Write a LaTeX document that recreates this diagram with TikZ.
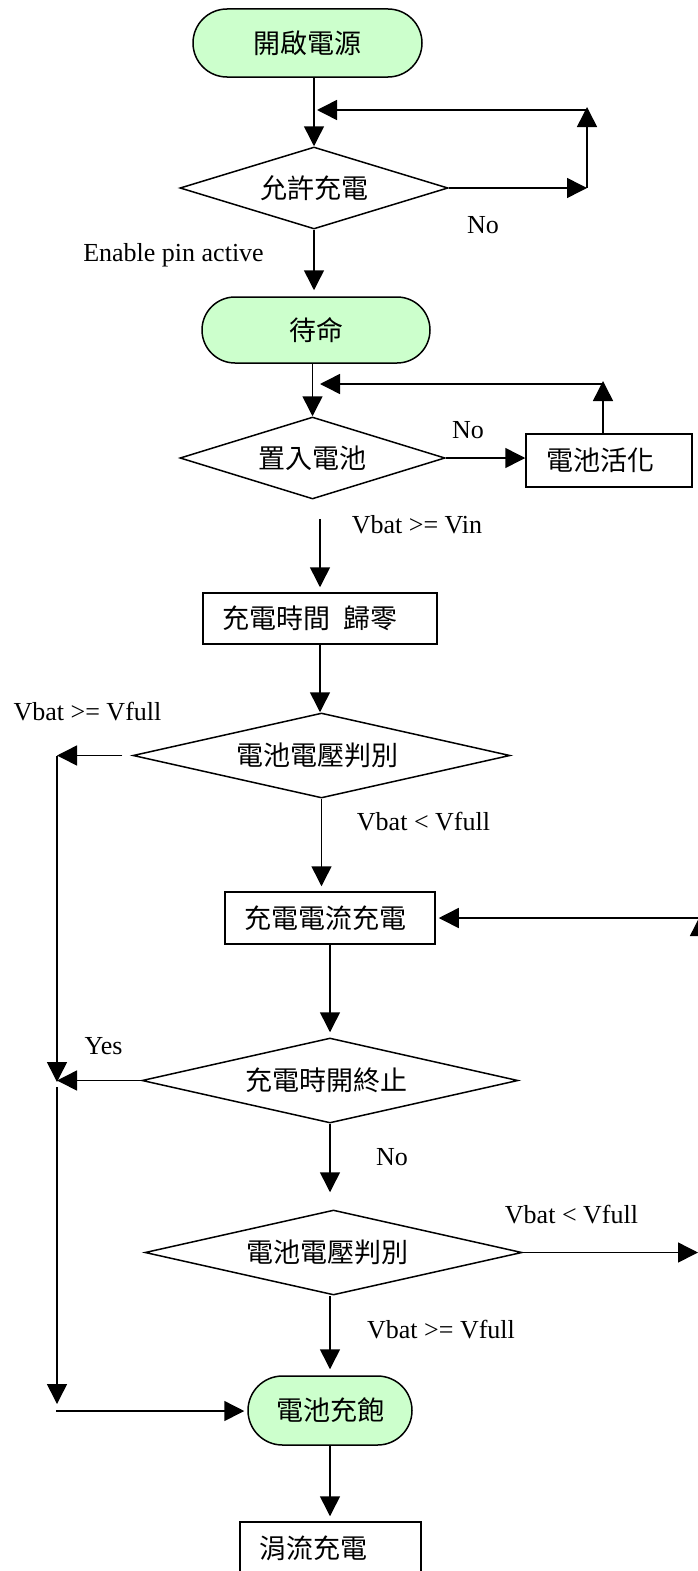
\documentclass[tikz,border=0pt]{standalone}
\usepackage{fontspec}
\setmainfont{Liberation Serif}
\newfontfamily\cjk{Noto Sans CJK TC}
\usetikzlibrary{shapes.geometric,shapes.misc,arrows.meta}
\definecolor{termgreen}{HTML}{CCFFCC}
\begin{document}
\begin{tikzpicture}[x=1pt,y=-1pt,
  line width=1.5pt,
  base/.style={draw, line width=1.5pt, font=\cjk\fontsize{27}{30}\selectfont, inner sep=0pt},
  term/.style={base, rounded rectangle, fill=termgreen},
  proc/.style={base, rectangle},
  dec/.style={base, diamond, aspect=4},
  arr/.style={-{Triangle[length=20pt,width=20pt]}},
  lbl/.style={font=\fontsize{26}{30}\selectfont, inner sep=0pt}
]
\useasboundingbox (0,0) rectangle (698,1571);
\clip (0,0) rectangle (698,1571);

% nodes
\node[term, minimum width=229pt, minimum height=68pt] (start) at (307.5,43) {開啟電源};
\node[dec, minimum width=268pt, minimum height=82pt] (d1) at (314,188) {允許充電};
\node[term, minimum width=228pt, minimum height=66pt] (standby) at (316,330) {待命};
\node[dec, minimum width=265pt, minimum height=82pt] (d2) at (312.5,458) {置入電池};
\node[proc, minimum width=166pt, minimum height=53pt] (act) at (609,460.5) {電池活化\kern18pt};
\node[proc, minimum width=234pt, minimum height=51pt] (reset) at (320,618.5) {充電時間\kern13pt歸零\kern20pt};
\node[dec, minimum width=377pt, minimum height=85pt] (d3) at (321.5,755.5) {電池電壓判別\kern8pt};
\node[proc, minimum width=210pt, minimum height=52pt] (cc) at (330,918) {充電電流充電\kern10pt};
\node[dec, minimum width=376pt, minimum height=85pt] (d4) at (330,1080.5) {充電時開終止\kern8pt};
\node[dec, minimum width=377pt, minimum height=85pt] (d5) at (333.5,1252.5) {電池電壓判別\kern12pt};
\node[term, minimum width=164pt, minimum height=69pt] (full) at (330,1410.5) {電池充飽};
\node[proc, minimum width=181pt, minimum height=52pt] (trickle) at (330.5,1548) {涓流充電\kern34pt};

% labels
\node[lbl] (tNo1) at (483,225) {No};
\node[lbl] (tEn) at (173.5,255) {Enable pin active};
\node[lbl] (tNo2) at (468,430) {No};
\node[lbl] (tVin) at (417,525) {Vbat >= Vin};
\node[lbl] (tVf1) at (87.5,712) {Vbat >= Vfull};
\node[lbl] (tVl1) at (423.5,822) {Vbat < Vfull};
\node[lbl] (tYes) at (103.5,1046) {Yes};
\node[lbl] (tNo3) at (392,1157) {No};
\node[lbl] (tVl2) at (571.5,1215) {Vbat < Vfull};
\node[lbl] (tVf2) at (441,1330) {Vbat >= Vfull};

% coordinates for free ends
\coordinate (n1) at (587,188);
\coordinate (n2) at (587,107);
\coordinate (n3) at (587,110);
\coordinate (n4) at (317,110);
\coordinate (m1) at (603,434);
\coordinate (m2) at (603,381);
\coordinate (m3) at (603,384);
\coordinate (m4) at (320,384);
\coordinate (L1) at (57,755.5);
\coordinate (L2) at (57,1082);
\coordinate (L3) at (57,1087);
\coordinate (L4) at (57,1404);
\coordinate (L5) at (56,1411);
\coordinate (R1) at (698,1252.5);
\coordinate (R2) at (700,1252.5);
\coordinate (R3) at (700,916);

% connectors
\draw[arr] (start.south -| d1.north) -- (d1.north);
\draw[arr] (d1.east) -- (n1);
\draw[arr] (n1) -- (n2);
\draw[arr] (n3) -- (n4);
\draw[arr, shorten >=6pt] (d1.south) -- (d1.south |- standby.north);
\draw[arr] (standby.south -| d2.north) -- (d2.north);
\draw[arr] (d2.east) -- (d2.east -| act.west);
\draw[arr] (act.north -| m1) -- (m2);
\draw[arr] (m3) -- (m4);
\draw[arr, shorten <=19pt, shorten >=5pt] (d2.south -| reset.north) -- (reset.north);
\draw[arr] (reset.south) -- (reset.south |- d3.north);
\draw[arr, shorten <=10pt] (d3.west) -- (L1);
\draw[arr] (L1) -- (L2);
\draw[arr] (d4.west) -- (d4.west -| L2);
\draw[arr] (L3) -- (L4);
\draw[arr, shorten >=3pt] (L5) -- (L5 -| full.west);
\draw[arr, shorten >=5pt] (d3.south) -- (d3.south |- cc.north);
\draw[arr, shorten >=5pt] (cc.south) -- (cc.south |- d4.north);
\draw[arr, shorten >=17pt] (d4.south) -- (d4.south |- d5.north);
\draw[arr] (d5.east) -- (R1);
\draw[arr] (R2) -- (R3);
\draw[arr, shorten >=3pt] (cc.east -| R2) -- (cc.east);
\draw[arr, shorten >=6pt] (d5.south -| full.north) -- (full.north);
\draw[arr, shorten >=5pt] (full.south) -- (full.south |- trickle.north);
\end{tikzpicture}
\end{document}
